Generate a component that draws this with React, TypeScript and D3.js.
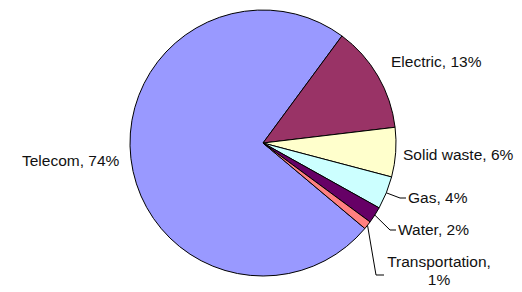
import React from "react";
import * as d3 from "d3";

// slice data
const categories = ["Telecom", "Electric", "Solid waste", "Gas", "Water", "Transportation"];
const shares = [74, 13, 6, 4, 2, 1];
const colors = ["#9999FF", "#993366", "#FFFFCC", "#CCFFFF", "#660066", "#FF8080"];

// label layout (text anchor point + optional leader elbow)
const labelLayout: { x: number; y: number; anchor: string; lines: string[]; leader?: [number, number][] }[] = [
  { x: 22, y: 166, anchor: "start", lines: ["Telecom, 74%"] },
  { x: 391, y: 67, anchor: "start", lines: ["Electric, 13%"] },
  { x: 403, y: 160, anchor: "start", lines: ["Solid waste, 6%"] },
  { x: 408, y: 203, anchor: "start", lines: ["Gas, 4%"], leader: [[400, 198], [406, 198]] },
  { x: 398, y: 235, anchor: "start", lines: ["Water, 2%"], leader: [[390, 230], [396, 230]] },
  { x: 439, y: 267, anchor: "middle", lines: ["Transportation,", "1%"], leader: [[376, 275], [384, 275]] },
];

const W = 522;
const H = 292;
const cx = 263;
const cy = 143;
const radius = 133;

export default function App() {
  const start = (130 * Math.PI) / 180;
  const pie = d3
    .pie<number>()
    .sort(null)
    .value((d) => d)
    .startAngle(start)
    .endAngle(start + 2 * Math.PI);
  const arcs = pie(shares);
  const arc = d3.arc<d3.PieArcDatum<number>>().innerRadius(0).outerRadius(radius);

  return (
    <svg width={W} height={H} style={{ position: "absolute", left: 0, top: 0, background: "#fff" }}>
      <g transform={`translate(${cx},${cy})`}>
        {arcs.map((a, i) => (
          <path key={categories[i]} d={arc(a) || ""} fill={colors[i]} stroke="#000" strokeWidth={1} />
        ))}
      </g>
      {arcs.map((a, i) => {
        const lay = labelLayout[i];
        if (!lay.leader) return null;
        const mid = (a.startAngle + a.endAngle) / 2;
        const p0: [number, number] = [cx + radius * Math.sin(mid), cy - radius * Math.cos(mid)];
        const pts = [p0, ...lay.leader];
        return (
          <path
            key={"l" + i}
            d={d3.line()(pts) || ""}
            fill="none"
            stroke="#000"
            strokeWidth={1}
          />
        );
      })}
      {labelLayout.map((lay, i) => (
        <text
          key={"t" + i}
          x={lay.x}
          y={lay.y}
          textAnchor={lay.anchor}
          fontFamily="Liberation Sans, Arial, sans-serif"
          fontSize={15.5}
          fill="#111"
        >
          {lay.lines.map((ln, j) => (
            <tspan key={j} x={lay.x} dy={j === 0 ? 0 : 18} textAnchor={j === 0 ? lay.anchor : "middle"}>
              {ln}
            </tspan>
          ))}
        </text>
      ))}
    </svg>
  );
}
